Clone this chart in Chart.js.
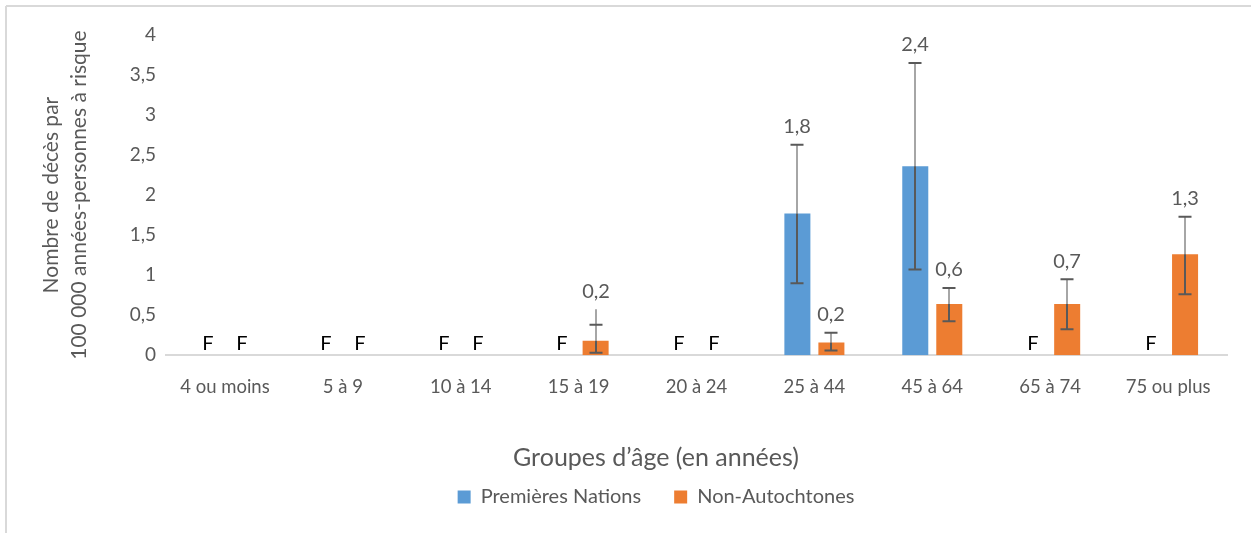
<!DOCTYPE html>
<html>
<head>
<meta charset="utf-8">
<script src="https://cdn.jsdelivr.net/npm/chart.js@4"></script>
<style>
    html, body { margin: 0; padding: 0; background: #fff; overflow: hidden; }
    #wrap { position: relative; width: 1312px; height: 533px; }
</style>
</head>
<body>
<div id="wrap"><canvas id="chart" width="1312" height="533"></canvas></div>
<script>
// Groupes d'âge
const ageGroups = ['4 ou moins', '5 à 9', '10 à 14', '15 à 19', '20 à 24', '25 à 44', '45 à 64', '65 à 74', '75 ou plus'];

// Taux (null = F, donnée supprimée)
const firstNations = [null, null, null, null, null, 1.77, 2.36, null, null];
const nonIndigenous = [null, null, null, 0.18, null, 0.16, 0.64, 0.64, 1.26];

// Étiquettes affichées
const firstNationsLabels = ['F', 'F', 'F', 'F', 'F', '1,8', '2,4', 'F', 'F'];
const nonIndigenousLabels = ['F', 'F', 'F', '0,2', 'F', '0,2', '0,6', '0,7', '1,3'];

// Intervalles de confiance
const firstNationsLow = [null, null, null, null, null, 0.9, 1.07, null, null];
const firstNationsHigh = [null, null, null, null, null, 2.63, 3.65, null, null];
const nonIndigenousLow = [null, null, null, 0.03, null, 0.06, 0.425, 0.325, 0.76];
const nonIndigenousHigh = [null, null, null, 0.38, null, 0.28, 0.84, 0.95, 1.73];
const nonIndigenousLineTop = [null, null, null, 0.575, null, null, null, null, null];

const yTicks = [0, 0.5, 1, 1.5, 2, 2.5, 3, 3.5, 4];

const FONT = 'Lato, "Open Sans", sans-serif';
const GREY = '#595959';

const errorSets = [
    { low: firstNationsLow, high: firstNationsHigh, top: [], labels: firstNationsLabels },
    { low: nonIndigenousLow, high: nonIndigenousHigh, top: nonIndigenousLineTop, labels: nonIndigenousLabels }
];

const framePlugin = {
    id: 'frame',
    beforeDraw(chart) {
        const ctx = chart.ctx;
        ctx.save();
        ctx.fillStyle = '#d9d9d9';
        ctx.fillRect(6, 5, chart.width, 2);
        ctx.fillRect(5, 6, 2, chart.height);
        ctx.restore();
    }
};

const errorBarPlugin = {
    id: 'errorBars',
    afterDatasetsDraw(chart) {
        const ctx = chart.ctx;
        const y = chart.scales.y;
        ctx.save();
        chart.data.datasets.forEach((ds, di) => {
            const meta = chart.getDatasetMeta(di);
            const set = errorSets[di];
            meta.data.forEach((bar, i) => {
                const x = Math.round(bar.x);
                const base = y.getPixelForValue(0);
                if (ds.data[i] == null) {
                    ctx.fillStyle = '#000';
                    ctx.font = '20px ' + FONT;
                    ctx.textAlign = 'center';
                    ctx.textBaseline = 'middle';
                    ctx.fillText(set.labels[i], x, base - 12);
                    return;
                }
                const lo = y.getPixelForValue(set.low[i]);
                const hi = y.getPixelForValue(set.high[i]);
                const top = set.top[i] != null ? y.getPixelForValue(set.top[i]) : hi;
                const barTop = y.getPixelForValue(ds.data[i]);
                ctx.lineWidth = 2;
                // part above the bar
                ctx.strokeStyle = '#a6a6a6';
                ctx.beginPath();
                ctx.moveTo(x, top);
                ctx.lineTo(x, barTop);
                ctx.stroke();
                // part inside the bar
                ctx.strokeStyle = GREY;
                ctx.beginPath();
                ctx.moveTo(x, barTop);
                ctx.lineTo(x, lo);
                ctx.stroke();
                // caps
                ctx.beginPath();
                ctx.moveTo(x - 6.5, hi);
                ctx.lineTo(x + 6.5, hi);
                ctx.moveTo(x - 6.5, lo);
                ctx.lineTo(x + 6.5, lo);
                ctx.stroke();
                // value label
                ctx.fillStyle = GREY;
                ctx.font = '20px ' + FONT;
                ctx.textAlign = 'center';
                ctx.textBaseline = 'middle';
                ctx.fillText(set.labels[i], x, top - 18);
            });
        });
        ctx.restore();
    }
};

new Chart(document.getElementById('chart'), {
    type: 'bar',
    data: {
        labels: ageGroups,
        datasets: [
            {
                label: 'Premières Nations',
                data: firstNations,
                backgroundColor: '#5b9bd5',
                barPercentage: 0.765,
                categoryPercentage: 0.577
            },
            {
                label: 'Non-Autochtones',
                data: nonIndigenous,
                backgroundColor: '#ed7d31',
                barPercentage: 0.765,
                categoryPercentage: 0.577
            }
        ]
    },
    options: {
        responsive: false,
        animation: false,
        layout: { padding: { top: 35, left: 0, right: 0, bottom: 16 } },
        scales: {
            x: {
                grid: { display: false, drawTicks: false },
                border: { display: true, color: '#d9d9d9', width: 2 },
                ticks: { color: GREY, font: { family: FONT, size: 18.5 }, padding: 21, maxRotation: 0 }
            },
            y: {
                min: 0,
                max: 4,
                afterBuildTicks: (scale) => { scale.ticks = yTicks.map(v => ({ value: v })); },
                grid: { display: false, drawTicks: false },
                border: { display: false },
                ticks: {
                    color: GREY,
                    font: { family: FONT, size: 19 },
                    padding: 10,
                    callback: (v) => String(v).replace('.', ',')
                },
                title: {
                    display: true,
                    text: ['Nombre de décès par', '100 000 années-personnes à risque'],
                    color: GREY,
                    font: { family: FONT, size: 21, lineHeight: 1.33 },
                    padding: { top: 37, bottom: 0 }
                },
                afterFit: (scale) => { scale.width = 166; }
            },
            yRight: {
                position: 'right',
                min: 0,
                max: 4,
                grid: { display: false, drawTicks: false },
                border: { display: false },
                ticks: { display: false },
                afterFit: (scale) => { scale.width = 85; }
            }
        },
        plugins: {
            title: {
                display: true,
                position: 'bottom',
                weight: 500,
                text: 'Groupes d’âge (en années)',
                color: GREY,
                font: { family: FONT, size: 25, weight: 'normal', lineHeight: 1 },
                padding: { top: 25.6, bottom: -16 }
            },
            legend: {
                position: 'bottom',
                labels: {
                    color: GREY,
                    font: { family: FONT, size: 20 },
                    boxWidth: 13,
                    boxHeight: 13,
                    padding: 33
                }
            },
            tooltip: { enabled: false }
        }
    },
    plugins: [framePlugin, errorBarPlugin]
});
</script>
</body>
</html>
